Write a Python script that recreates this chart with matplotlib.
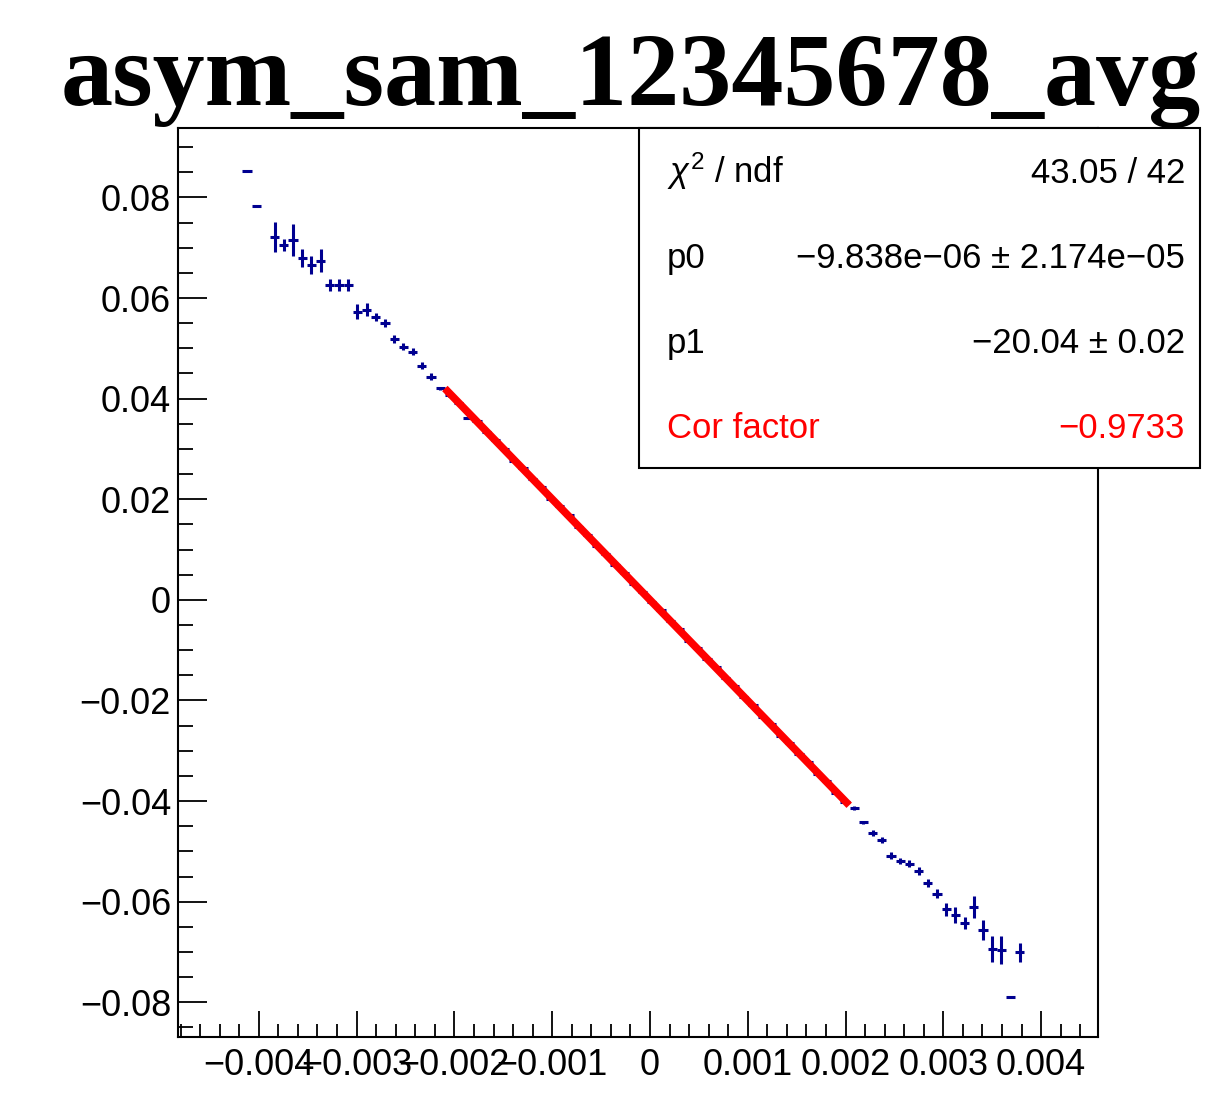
import numpy as np
import matplotlib
matplotlib.use("Agg")
import matplotlib.pyplot as plt
from matplotlib.ticker import MultipleLocator, FuncFormatter
from matplotlib.patches import Rectangle

plt.rcParams['font.family'] = ['Liberation Sans', 'DejaVu Sans']

# profile histogram: 100 bins over the x range
x_lo, x_hi = -0.004826, 0.004581
n_bins = 100

# filled bins (index) with mean and error
bins = [7, 8, 10, 11, 12, 13, 14, 15, 16, 17, 18, 19, 20, 21, 22, 23, 24, 25, 26, 27, 28,
        29, 30, 31, 32, 33, 34, 35, 36, 37, 38, 39, 40, 41, 42, 43, 44, 45, 46, 47, 48, 49, 50,
        51, 52, 53, 54, 55, 56, 57, 58, 59, 60, 61, 62, 63, 64, 65, 66, 67, 68, 69, 70, 71, 72,
        73, 74, 75, 76, 77, 78, 79, 80, 81, 82, 83, 84, 85, 86, 87, 88, 89, 90, 91]
means = [0.0853, 0.0783, 0.0721, 0.0705, 0.0716, 0.0680, 0.0665, 0.0674, 0.0626, 0.0625, 0.0626,
         0.0573, 0.0577, 0.0562, 0.0551, 0.0519, 0.0503, 0.0493, 0.0465, 0.0444, 0.0421,
         0.0407, 0.0391, 0.0361, 0.0356, 0.0333, 0.0318, 0.0299, 0.0277, 0.0262, 0.0240,
         0.0224, 0.0201, 0.0186, 0.0168, 0.0145, 0.0129, 0.0108, 0.0092, 0.0070, 0.0054,
         0.0032, 0.0016, -0.0005, -0.0021, -0.0043, -0.0058, -0.0081, -0.0096, -0.0118,
         -0.0134, -0.0156, -0.0171, -0.0194, -0.0209, -0.0232, -0.0247, -0.0270, -0.0285,
         -0.0307, -0.0322, -0.0346, -0.0360, -0.0383, -0.0401,
         -0.0414, -0.0442, -0.0463, -0.0478, -0.0509, -0.0520, -0.0525, -0.0539, -0.0563,
         -0.0584, -0.0615, -0.0626, -0.0642, -0.0610, -0.0657, -0.0694, -0.0696, -0.0790, -0.0701]
errs = [0.0002, 0.0002, 0.0030, 0.0012, 0.0032, 0.0018, 0.0018, 0.0023, 0.0012, 0.0012, 0.0012,
        0.0015, 0.0013, 0.0008, 0.0008, 0.0008, 0.0007, 0.0007, 0.0007, 0.0006, 0.0003,
        0.0003, 0.0003, 0.0002, 0.0003, 0.0003, 0.0003, 0.0003, 0.0003, 0.0003, 0.0003,
        0.0003, 0.0003, 0.0003, 0.0003, 0.0003, 0.0003, 0.0003, 0.0003, 0.0003, 0.0003,
        0.0003, 0.0003, 0.0003, 0.0003, 0.0003, 0.0003, 0.0003, 0.0003, 0.0003, 0.0003,
        0.0003, 0.0003, 0.0003, 0.0003, 0.0003, 0.0003, 0.0003, 0.0003, 0.0003, 0.0003,
        0.0003, 0.0003, 0.0003, 0.0003,
        0.0004, 0.0003, 0.0006, 0.0006, 0.0007, 0.0006, 0.0007, 0.0008, 0.0008,
        0.0009, 0.0013, 0.0016, 0.0012, 0.0022, 0.0020, 0.0025, 0.0027, 0.0002, 0.0019]

# fit result
p0 = -9.838e-06
p1 = -20.04
fit_range = (-0.00207, 0.00201)
stats_left = ["$\\chi^{2}$ / ndf", "p0", "p1", "Cor factor"]
stats_right = ["43.05 / 42", "−9.838e−06 ± 2.174e−05", "−20.04 ± 0.02", "−0.9733"]
stats_colors = ["black", "black", "black", "red"]

plt.rcParams['mathtext.fontset'] = 'custom'
plt.rcParams['mathtext.rm'] = 'Liberation Sans'
plt.rcParams['mathtext.it'] = 'Liberation Sans:italic'

W, H = 1220, 1097
fig = plt.figure(figsize=(W / 100, H / 100), dpi=100)
ax = fig.add_axes([178 / W, 1 - 1037 / H, (1098 - 178) / W, (1037 - 128) / H])

edges = np.linspace(x_lo, x_hi, n_bins + 1)
centers = 0.5 * (edges[:-1] + edges[1:])
bw = edges[1] - edges[0]
xs = centers[bins]

ax.errorbar(xs, means, xerr=bw / 2, yerr=errs, fmt='none', ecolor='#000090',
            elinewidth=2.2, capsize=0, zorder=2)

fx = np.linspace(fit_range[0], fit_range[1], 200)
ax.plot(fx, p0 + p1 * fx, color='#ff0000', lw=5.5, zorder=3)

ax.set_xlim(x_lo, x_hi)
ax.set_ylim(-0.0869, 0.0938)


def fmt(v, pos):
    if abs(v) < 1e-12:
        return "0"
    return ("%g" % round(v, 6)).replace("-", "\u2212")


ax.xaxis.set_major_locator(MultipleLocator(0.001))
ax.xaxis.set_minor_locator(MultipleLocator(0.0002))
ax.yaxis.set_major_locator(MultipleLocator(0.02))
ax.yaxis.set_minor_locator(MultipleLocator(0.005))
ax.xaxis.set_major_formatter(FuncFormatter(fmt))
ax.yaxis.set_major_formatter(FuncFormatter(fmt))
ax.tick_params(axis='x', which='major', direction='in', length=19, width=1.3, labelsize=26, pad=8)
ax.tick_params(axis='x', which='minor', direction='in', length=9.5, width=1.3)
ax.tick_params(axis='y', which='major', direction='in', length=21, width=1.3, labelsize=26, pad=5)
ax.tick_params(axis='y', which='minor', direction='in', length=11, width=1.3)
for s in ax.spines.values():
    s.set_linewidth(1.5)

# title
fig.text(631 / W, 1 - 105 / H, "asym_sam_12345678_avg", ha='center', va='baseline',
         family=['Liberation Serif', 'DejaVu Serif'], weight='bold', fontsize=75)

# stats box
box = Rectangle((639 / W, 1 - 468 / H), (1200 - 639) / W, (468 - 128) / H,
                transform=fig.transFigure, facecolor='white', edgecolor='black', lw=1.5, zorder=10)
fig.add_artist(box)
rows_y = [183, 268, 353, 438]
for ly, lt, rt, c in zip(rows_y, stats_left, stats_right, stats_colors):
    fig.text(667 / W, 1 - ly / H, lt, ha='left', va='baseline', fontsize=25, color=c, zorder=11)
    fig.text(1185 / W, 1 - ly / H, rt, ha='right', va='baseline', fontsize=25, color=c, zorder=11)

fig.savefig("out.png", dpi=100)
